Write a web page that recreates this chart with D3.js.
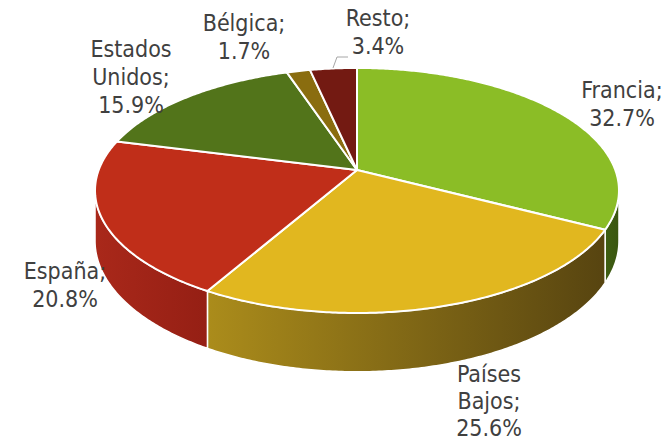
<!DOCTYPE html>
<html>
<head>
<meta charset="utf-8">
<script src="https://cdn.jsdelivr.net/npm/d3@7"></script>
<style>
  html, body { margin: 0; padding: 0; background: #ffffff; }
  svg { display: block; }
</style>
</head>
<body>
<script>
// Export share by destination country (%)
const categories = ["Francia", "Países Bajos", "España", "Estados Unidos", "Bélgica", "Resto"];
const values = [32.7, 25.6, 20.8, 15.9, 1.7, 3.4];
const topColors = ["#8bbd26", "#e1b71f", "#c02e19", "#52741a", "#8a6d0f", "#731a12"];
const sideFrom = ["#3f5e12", "#ab8c1b", "#a9281a", "#3f5a12", "#6a540c", "#5a140e"];
const sideTo = ["#3a5610", "#574410", "#951f14", "#3a5410", "#5e4a0c", "#50120c"];
// label anchors: [x centre, first baseline]
const labelPos = [[622, 98], [489, 382], [65, 279], [131, 57], [244, 31], [378, 26]];

const W = 669, H = 444;
const svg = d3.select("body").append("svg").attr("width", W).attr("height", H);
const defs = svg.append("defs");

// perspective disc projection
const cx = 357, cy = 170, A = 258.3, B = 119.1, k = -0.167, depth = 49;
function proj(phi, h) {
  const u = Math.sin(phi), v = -Math.cos(phi);
  const den = 1 + k * v;
  return [cx + A * u / den, cy + (B * v + h) / den];
}
// silhouette extremes (where the side wall becomes visible)
const phiR = Math.PI / 2 + Math.asin(-k);
const phiL = 3 * Math.PI / 2 - Math.asin(-k);

const pie = d3.pie().sort(null).value(d => d)(values);

function arcPoints(a0, a1, h) {
  const n = Math.max(2, Math.ceil((a1 - a0) / 0.01));
  const pts = [];
  for (let i = 0; i <= n; i++) pts.push(proj(a0 + (a1 - a0) * i / n, h));
  return pts;
}
const line = d3.line();

// side walls
const sides = svg.append("g");
pie.forEach((s, i) => {
  const a0 = Math.max(s.startAngle, phiR), a1 = Math.min(s.endAngle, phiL);
  if (a1 <= a0) return;
  const top = arcPoints(a0, a1, 0);
  const bot = arcPoints(a0, a1, depth).reverse();
  const xs = top.map(p => p[0]);
  const gid = "side" + i;
  const g = defs.append("linearGradient").attr("id", gid)
    .attr("gradientUnits", "userSpaceOnUse")
    .attr("x1", d3.min(xs)).attr("x2", d3.max(xs)).attr("y1", 0).attr("y2", 0);
  g.append("stop").attr("offset", 0).attr("stop-color", sideFrom[i]);
  g.append("stop").attr("offset", 1).attr("stop-color", sideTo[i]);
  sides.append("path")
    .attr("d", line(top.concat(bot)) + "Z")
    .attr("fill", `url(#${gid})`)
    .attr("stroke", "#ffffff").attr("stroke-width", 1.5).attr("stroke-linejoin", "round");
});

// top face
const tops = svg.append("g");
pie.forEach((s, i) => {
  const pts = [[cx, cy]].concat(arcPoints(s.startAngle, s.endAngle, 0));
  tops.append("path")
    .attr("d", line(pts) + "Z")
    .attr("fill", topColors[i])
    .attr("stroke", "#ffffff").attr("stroke-width", 2).attr("stroke-linejoin", "round");
});

// leader line for the small "Resto" slice
svg.append("path")
  .attr("d", line([[333, 68], [337, 57], [348, 57]]))
  .attr("fill", "none").attr("stroke", "#a6a6a6").attr("stroke-width", 1);

// labels
const labelLines = (name, v) => {
  const words = name.split(" ");
  const lines = words.slice(0, -1).concat([words[words.length - 1] + ";"]);
  lines.push(d3.format(".1f")(v) + "%");
  return lines;
};
const labels = svg.append("g")
  .attr("font-family", "'DejaVu Sans Condensed', 'DejaVu Sans', sans-serif")
  .attr("font-size", 23).attr("fill", "#404040").attr("text-anchor", "middle");
categories.forEach((c, i) => {
  const t = labels.append("text").attr("x", labelPos[i][0]).attr("y", labelPos[i][1]);
  labelLines(c, values[i]).forEach((l, j) => {
    t.append("tspan").attr("x", labelPos[i][0]).attr("dy", j === 0 ? 0 : (i === 1 ? 27 : 28)).text(l);
  });
});
</script>
</body>
</html>
